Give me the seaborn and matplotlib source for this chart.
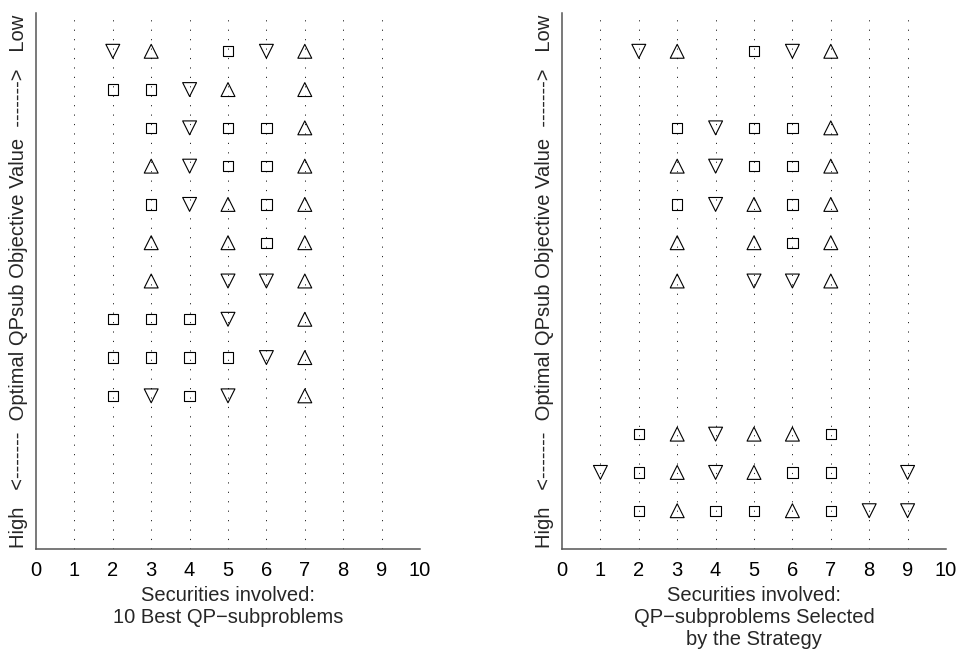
import matplotlib
matplotlib.use("Agg")
import matplotlib.pyplot as plt
import seaborn as sns
import pandas as pd

# ---- data -------------------------------------------------------------
# Each string lists the marker for securities 1..9 ('.' = not involved)
securities = [1, 2, 3, 4, 5, 6, 7, 8, 9]
left_levels = [13, 12, 11, 10, 9, 8, 7, 6, 5, 4]
left_rows = [
    ".v^.sv^..",
    ".ssv^.^..",
    "..svss^..",
    "..^vss^..",
    "..sv^s^..",
    "..^.^s^..",
    "..^.vv^..",
    ".sssv.^..",
    ".ssssv^..",
    ".svsv.^..",
]
right_levels = [13, 11, 10, 9, 8, 7, 3, 2, 1]
right_rows = [
    ".v^.sv^..",
    "..svss^..",
    "..^vss^..",
    "..sv^s^..",
    "..^.^s^..",
    "..^.vv^..",
    ".s^v^^s..",
    "vs^v^ss.v",
    ".s^ss^svv",
]
x_ticks = [0, 1, 2, 3, 4, 5, 6, 7, 8, 9, 10]
left_xlabel = "Securities involved:\n10 Best QP\u2212subproblems"
right_xlabel = "Securities involved:\nQP\u2212subproblems Selected\nby the Strategy"
ylabel = "High   <-------  Optimal QPsub Objective Value  ------->   Low"


def to_frame(levels, rows):
    recs = []
    for lvl, row in zip(levels, rows):
        for sec, ch in zip(securities, row):
            if ch != ".":
                recs.append({"sec": sec, "level": lvl, "shape": ch})
    return pd.DataFrame(recs)


sns.set_theme(style="white")
plt.rcParams["font.family"] = ["Liberation Sans", "DejaVu Sans"]

fig = plt.figure(figsize=(9.59, 6.49), dpi=100)
W, H = 959, 649
axes = [
    fig.add_axes([36 / W, 100 / H, 384 / W, 536 / H]),
    fig.add_axes([562 / W, 100 / H, 384 / W, 536 / H]),
]

marker_map = {"s": "s", "^": "^", "v": "v"}
size_map = {"s": 56, "^": 100, "v": 100}
FS = 14.5

for ax, levels, rows, xl in zip(axes, [left_levels, right_levels],
                                [left_rows, right_rows],
                                [left_xlabel, right_xlabel]):
    df = to_frame(levels, rows)
    sns.scatterplot(data=df, x="sec", y="level", style="shape", size="shape",
                    markers=marker_map, sizes=size_map, facecolor="none",
                    edgecolor="black", linewidth=0.8, legend=False, ax=ax,
                    zorder=3)
    ax.set_xlim(0, 10)
    ax.set_ylim(0, 14)
    ax.set_xticks(x_ticks)
    ax.set_xticklabels([str(t) for t in x_ticks], fontsize=FS)
    ax.set_yticks([])
    ax.grid(axis="x", color="#222222", linestyle=(0, (1.2, 8.5)), linewidth=0.7)
    ax.grid(axis="y", visible=False)
    gl = ax.xaxis.get_gridlines()
    gl[0].set_visible(False)
    gl[-1].set_visible(False)
    for s in ["top", "right"]:
        ax.spines[s].set_visible(False)
    for s in ["left", "bottom"]:
        ax.spines[s].set_color("#555555")
        ax.spines[s].set_linewidth(1.1)
    ax.tick_params(axis="x", direction="in", length=4, width=0.9,
                   color="#555555", pad=9, labelcolor="black")
    ax.set_xlabel(xl, fontsize=FS, linespacing=1.2, labelpad=4)
    ax.set_ylabel(ylabel, fontsize=FS)
    ax.yaxis.set_label_coords(-0.02, 0.5)
    ax.set_facecolor("white")

fig.savefig("out.png", dpi=100, facecolor="white")
